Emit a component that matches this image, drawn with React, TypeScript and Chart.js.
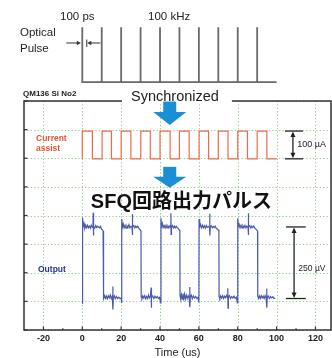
import React, { useEffect, useRef } from "react";
import { Chart, registerables } from "chart.js";
Chart.register(...registerables);

// ---- axis ----
const xMin = -30;
const xMax = 128;
const xTickValues = [-20, 0, 20, 40, 60, 80, 100, 120];
const xMinorValues = [-10, 10, 30, 50, 70, 90, 110];
const yTickValues = [0, 1, 2, 3, 4, 5, 6, 7, 8];

// ---- optical pulses (100 kHz) ----
const opticalPulseTimes = [0, 10, 20, 30, 40, 50, 60, 70, 80, 90];
const opticalEnd = 100;
const opticalBase = 8.66;
const opticalTop = 10.58;

// ---- current assist square wave ----
const currentRise = [0, 10.2, 20, 30.1, 40, 50, 60.1, 70, 80, 90];
const currentFall = [5.2, 15, 25, 35, 45.2, 55, 65, 75, 85, 95];
const currentEnd = 100;
const currentHigh = 6.95;
const currentLow = 5.98;

// ---- SFQ output (time us, level in divisions) ----
const outputPulse1: [number, number][] = [
  [0, 1.0], [0.1, 0.92], [0.2, 3.92], [0.5, 3.62], [0.9, 3.72], [1.3, 3.56], [1.7, 3.65], [2.1, 3.57], [2.6, 3.66], [3.1, 3.57], [3.6, 3.63], [4.1, 3.56], [4.6, 3.66], [5.1, 3.58], [5.5, 3.62], [5.6, 4.1], [5.7, 3.3], [5.9, 3.62], [6.4, 3.56], [6.9, 3.65], [7.4, 3.58], [7.9, 3.63], [8.4, 3.6], [8.9, 3.57], [9.4, 3.62], [9.9, 3.52], [10.4, 3.5], [10.7, 3.46],
  [10.8, 1.18], [11.1, 1.1], [11.5, 1.2], [11.9, 1.1], [12.4, 1.18], [12.9, 1.09], [13.4, 1.19], [13.9, 1.12], [14.4, 1.22], [14.9, 1.1], [15.4, 1.18], [15.7, 1.52], [15.8, 0.72], [16.0, 1.12], [16.5, 1.19], [17.0, 1.09], [17.6, 1.17], [18.2, 1.1], [18.8, 1.15], [19.4, 1.1], [20.0, 1.12], [20.2, 0.94],
];
const outputPulse2: [number, number][] = [
  [20.4, 3.88], [20.7, 3.6], [21.1, 3.7], [21.5, 3.57], [22.0, 3.66], [22.5, 3.56], [23.0, 3.64], [23.5, 3.58], [24.0, 3.68], [24.5, 3.57], [25.0, 3.62], [25.6, 3.58], [25.7, 4.05], [25.8, 3.32], [26.0, 3.6], [26.5, 3.65], [27.0, 3.57], [27.5, 3.63], [28.0, 3.58], [28.5, 3.63], [29.0, 3.56], [29.5, 3.52], [30.0, 3.48], [30.2, 3.45],
  [30.3, 1.15], [30.7, 1.1], [31.1, 1.19], [31.6, 1.12], [32.1, 1.2], [32.6, 1.09], [33.1, 1.17], [33.6, 1.1], [34.1, 1.22], [34.6, 1.12], [35.1, 1.19], [35.4, 1.48], [35.5, 0.78], [35.7, 1.14], [36.2, 1.19], [36.8, 1.1], [37.4, 1.18], [38.0, 1.12], [38.6, 1.17], [39.2, 1.1], [39.8, 1.14], [40.2, 0.95],
];
const outputPulse3: [number, number][] = [
  [40.5, 3.9], [40.8, 3.62], [41.2, 3.72], [41.6, 3.58], [42.1, 3.65], [42.6, 3.56], [43.1, 3.66], [43.6, 3.57], [44.1, 3.63], [44.6, 3.57], [45.1, 3.64], [45.5, 3.58], [45.6, 4.08], [45.7, 3.34], [45.9, 3.6], [46.4, 3.65], [46.9, 3.56], [47.4, 3.63], [47.9, 3.57], [48.4, 3.62], [48.9, 3.57], [49.4, 3.54], [49.9, 3.5], [50.2, 3.47],
  [50.3, 1.2], [50.6, 1.1], [51.0, 1.24], [51.4, 1.08], [51.8, 1.27], [52.2, 1.1], [52.6, 1.25], [53.0, 1.07], [53.5, 1.22], [54.0, 1.1], [54.5, 1.2], [55.0, 1.12], [55.3, 1.5], [55.4, 0.8], [55.6, 1.16], [56.1, 1.22], [56.6, 1.09], [57.2, 1.19], [57.8, 1.12], [58.4, 1.17], [59.0, 1.1], [59.6, 1.14], [60.0, 0.96],
];
const outputPulse4: [number, number][] = [
  [60.1, 3.88], [60.4, 3.6], [60.8, 3.69], [61.3, 3.57], [61.8, 3.66], [62.3, 3.57], [62.8, 3.64], [63.3, 3.56], [63.8, 3.65], [64.3, 3.58], [64.8, 3.62], [65.5, 3.57], [65.6, 4.06], [65.7, 3.3], [65.9, 3.61], [66.4, 3.64], [66.9, 3.57], [67.4, 3.62], [67.9, 3.58], [68.4, 3.63], [68.9, 3.56], [69.4, 3.53], [69.9, 3.5], [70.3, 3.46],
  [70.4, 1.16], [70.8, 1.1], [71.2, 1.19], [71.7, 1.12], [72.2, 1.2], [72.7, 1.1], [73.2, 1.18], [73.7, 1.13], [74.2, 1.21], [74.7, 1.12], [74.9, 1.46], [75.0, 0.76], [75.2, 1.14], [75.7, 1.2], [76.3, 1.1], [76.9, 1.17], [77.5, 1.12], [78.1, 1.18], [78.7, 1.1], [79.3, 1.15], [79.8, 0.95],
];
const outputPulse5: [number, number][] = [
  [80.0, 3.9], [80.3, 3.62], [80.7, 3.7], [81.2, 3.57], [81.7, 3.66], [82.2, 3.57], [82.7, 3.64], [83.2, 3.58], [83.7, 3.65], [84.2, 3.57], [84.7, 3.63], [85.3, 3.58], [85.4, 4.08], [85.5, 3.32], [85.7, 3.6], [86.2, 3.65], [86.7, 3.56], [87.2, 3.63], [87.7, 3.58], [88.2, 3.63], [88.7, 3.57], [89.2, 3.53], [89.7, 3.5], [90.2, 3.46],
  [90.3, 1.18], [90.7, 1.1], [91.1, 1.19], [91.6, 1.1], [92.1, 1.2], [92.6, 1.12], [93.1, 1.18], [93.6, 1.1], [94.1, 1.2], [94.6, 1.12], [94.9, 1.45], [95.0, 0.78], [95.2, 1.14], [95.7, 1.19], [96.3, 1.1], [96.9, 1.17], [97.5, 1.12], [98.1, 1.16], [98.7, 1.1], [99.3, 1.12],
];
const outputHigh = 3.6;
const outputLow = 1.1;

// ---- labels ----
const xTitle = "Time (us)";
const topLabelPulse = "100 ps";
const topLabelFreq = "100 kHz";
const opticalLabel = ["Optical", "Pulse"];
const sampleLabel = "QM136 Si No2";
const syncLabel = "Synchronized";
const sfqLabel = "SFQ回路出力パルス";
const currentLabel = ["Current", "assist"];
const outputLabel = "Output";
const currentScaleLabel = "100 µA";
const outputScaleLabel = "250 µV";

const FONT = '"Liberation Sans", Arial, sans-serif';
const GRID = "rgba(120,195,110,0.85)";
const CURRENT_COLOR = "#ef6b47";
const OUTPUT_COLOR = "#4b5aad";
const ARROW_BLUE = "#1b8fd5";

function buildOptical() {
  const pts: { x: number; y: number }[] = [];
  opticalPulseTimes.forEach((t) => {
    pts.push({ x: t, y: opticalBase }, { x: t, y: opticalTop }, { x: t, y: opticalBase });
  });
  pts.push({ x: opticalEnd, y: opticalBase });
  return pts;
}

function buildCurrent() {
  const pts: { x: number; y: number }[] = [];
  currentRise.forEach((r, i) => {
    pts.push({ x: r, y: currentLow }, { x: r, y: currentHigh });
    pts.push({ x: currentFall[i], y: currentHigh }, { x: currentFall[i], y: currentLow });
  });
  pts.push({ x: currentEnd, y: currentLow });
  return pts;
}

function buildOutput() {
  return [...outputPulse1, ...outputPulse2, ...outputPulse3, ...outputPulse4, ...outputPulse5].map(([x, y]) => ({ x, y }));
}

const gridPlugin = {
  id: "dottedGrid",
  beforeDatasetsDraw(chart: any) {
    const { ctx, chartArea: a, scales } = chart;
    ctx.save();
    ctx.strokeStyle = GRID;
    ctx.lineWidth = 1;
    ctx.setLineDash([1.2, 2.2]);
    xTickValues.forEach((v) => {
      const x = Math.round(scales.x.getPixelForValue(v)) + 0.5;
      ctx.beginPath();
      ctx.moveTo(x, a.top);
      ctx.lineTo(x, a.bottom);
      ctx.stroke();
    });
    yTickValues.forEach((v) => {
      const y = Math.round(scales.y.getPixelForValue(v)) + 0.5;
      ctx.beginPath();
      ctx.moveTo(a.left, y);
      ctx.lineTo(a.right, y);
      ctx.stroke();
    });
    ctx.restore();
  },
};

const overlayPlugin = {
  id: "overlay",
  afterDraw(chart: any) {
    const { ctx, chartArea: a, scales } = chart;
    const xs = scales.x;
    const ys = scales.y;
    const px = (v: number) => xs.getPixelForValue(v);
    const py = (v: number) => ys.getPixelForValue(v);
    const line = (x1: number, y1: number, x2: number, y2: number) => {
      ctx.beginPath();
      ctx.moveTo(x1, y1);
      ctx.lineTo(x2, y2);
      ctx.stroke();
    };
    const tri = (p: number[][], color: string) => {
      ctx.fillStyle = color;
      ctx.beginPath();
      ctx.moveTo(p[0][0], p[0][1]);
      for (let i = 1; i < p.length; i++) ctx.lineTo(p[i][0], p[i][1]);
      ctx.closePath();
      ctx.fill();
    };
    ctx.save();
    ctx.setLineDash([]);
    // frame
    ctx.strokeStyle = "#333";
    ctx.lineWidth = 1.5;
    ctx.strokeRect(a.left, a.top, a.right - a.left, a.bottom - a.top);
    // tick marks
    ctx.lineWidth = 1.2;
    xTickValues.forEach((v) => line(px(v), a.bottom, px(v), a.bottom - 3.5));
    xMinorValues.forEach((v) => line(px(v), a.bottom, px(v), a.bottom - 1.8));
    yTickValues.forEach((v) => line(a.left, py(v), a.left + 3.5, py(v)));

    // Synchronized label over top border
    ctx.fillStyle = "#fff";
    ctx.fillRect(px(20.4), a.top - 3, px(77) - px(20.4), 6);
    ctx.fillStyle = "#222";
    ctx.font = `14.5px ${FONT}`;
    ctx.textAlign = "center";
    ctx.textBaseline = "middle";
    ctx.fillText(syncLabel, px(47.7), a.top - 4);

    // sample label
    ctx.font = `bold 8px ${FONT}`;
    ctx.textAlign = "left";
    ctx.fillText(sampleLabel, a.left - 1, a.top - 7);

    // optical labels
    ctx.font = `11.5px ${FONT}`;
    ctx.fillStyle = "#222";
    ctx.fillText(opticalLabel[0], 20, 33);
    ctx.fillText(opticalLabel[1], 20, 49);
    ctx.fillText(topLabelPulse, 60, 17);
    ctx.fillText(topLabelFreq, 148, 17);
    // pulse width arrows
    const p0 = px(0);
    ctx.strokeStyle = "#333";
    ctx.lineWidth = 1;
    line(p0 - 16, 43, p0 - 4, 43);
    tri([[p0 - 1.5, 43], [p0 - 5.5, 40.8], [p0 - 5.5, 45.2]], "#333");
    line(p0 + 4.5, 39.5, p0 + 4.5, 47);
    line(p0 + 8, 43, p0 + 18, 43);
    tri([[p0 + 5, 43], [p0 + 9, 40.8], [p0 + 9, 45.2]], "#333");

    // blue arrows
    const ax = px(45);
    const shaftHalf = (px(48.2) - px(41.5)) / 2;
    const headHalf = (px(53.4) - px(36.4)) / 2;
    const blueArrow = (top: number, headStart: number, tip: number) => {
      ctx.fillStyle = ARROW_BLUE;
      ctx.fillRect(ax - shaftHalf, top, shaftHalf * 2, headStart - top + 0.5);
      tri([[ax - headHalf, headStart], [ax + headHalf, headStart], [ax, tip]], ARROW_BLUE);
    };
    blueArrow(py(7.98), py(7.62), py(7.16));
    blueArrow(py(5.7), py(5.35), py(4.97));

    // SFQ label
    ctx.fillStyle = "#111";
    ctx.font = `bold 20px ${FONT}, "Noto Sans CJK JP"`;
    ctx.textAlign = "center";
    ctx.fillText(sfqLabel, px(51), py(4.47));

    // trace labels
    ctx.textAlign = "left";
    ctx.font = `bold 8.5px ${FONT}`;
    ctx.fillStyle = "#e8532f";
    ctx.fillText(currentLabel[0], 36, py(6.68));
    ctx.fillText(currentLabel[1], 36, py(6.33));
    ctx.fillStyle = "#24358c";
    ctx.fillText(outputLabel, 38, py(2.1));

    // scale markers
    const marker = (xc: number, x1: number, x2: number, yTop: number, yBot: number) => {
      ctx.strokeStyle = "#222";
      ctx.lineWidth = 1.3;
      line(px(x1), yTop, px(x2), yTop);
      line(px(x1), yBot, px(x2), yBot);
      line(px(xc), yTop + 4, px(xc), yBot - 4);
      tri([[px(xc), yTop + 0.5], [px(xc) - 2.5, yTop + 6], [px(xc) + 2.5, yTop + 6]], "#222");
      tri([[px(xc), yBot - 0.5], [px(xc) - 2.5, yBot - 6], [px(xc) + 2.5, yBot - 6]], "#222");
    };
    marker(108.4, 104.3, 113.6, py(currentHigh), py(currentLow));
    marker(109, 104.8, 115, py(outputHigh), py(outputLow));
    ctx.fillStyle = "#222";
    ctx.font = `9px ${FONT}`;
    ctx.fillText(currentScaleLabel, px(110.6), py(6.47));
    ctx.font = `8.5px ${FONT}`;
    ctx.fillText(outputScaleLabel, px(111.2), py(2.13));
    ctx.restore();
  },
};

export default function App() {
  const ref = useRef<HTMLCanvasElement>(null);
  useEffect(() => {
    document.body.style.margin = "0";
    document.body.style.overflow = "hidden";
    const chart = new Chart(ref.current!, {
      type: "scatter",
      data: {
        datasets: [
          {
            label: "Optical pulse",
            data: buildOptical(),
            showLine: true,
            borderColor: "#6a6a6a",
            borderWidth: 1.8,
            pointRadius: 0,
            clip: false,
          } as any,
          {
            label: "Current assist",
            data: buildCurrent(),
            showLine: true,
            borderColor: CURRENT_COLOR,
            borderWidth: 1.2,
            pointRadius: 0,
          },
          {
            label: "Output",
            data: buildOutput(),
            showLine: true,
            borderColor: OUTPUT_COLOR,
            borderWidth: 1.2,
            pointRadius: 0,
          },
        ],
      },
      options: {
        responsive: false,
        animation: false,
        devicePixelRatio: 1,
        layout: { padding: { left: 24, top: 101, right: 1, bottom: 0 } },
        plugins: { legend: { display: false }, tooltip: { enabled: false } },
        scales: {
          x: {
            type: "linear",
            min: xMin,
            max: xMax,
            afterBuildTicks: (s: any) => {
              s.ticks = xTickValues.map((v) => ({ value: v }));
            },
            afterFit: (s: any) => {
              s.height = 28;
            },
            grid: { display: false, drawTicks: false },
            border: { display: false },
            ticks: {
              padding: 3,
              color: "#222",
              font: { family: FONT, size: 9, weight: "bold" },
              maxRotation: 0,
            },
            title: {
              display: true,
              text: xTitle,
              color: "#222",
              font: { family: FONT, size: 11, lineHeight: 1 },
              padding: 0,
            },
          },
          y: {
            type: "linear",
            min: 0,
            max: 8,
            afterBuildTicks: (s: any) => {
              s.ticks = yTickValues.map((v) => ({ value: v }));
            },
            afterFit: (s: any) => {
              s.width = 0;
            },
            grid: { display: false, drawTicks: false },
            border: { display: false },
            ticks: { display: false },
          },
        },
      },
      plugins: [gridPlugin, overlayPlugin],
    } as any);
    return () => chart.destroy();
  }, []);
  return (
    <div style={{ width: 332, height: 358, position: "relative", background: "#fff" }}>
      <canvas ref={ref} width={332} height={358} style={{ display: "block" }} />
    </div>
  );
}
